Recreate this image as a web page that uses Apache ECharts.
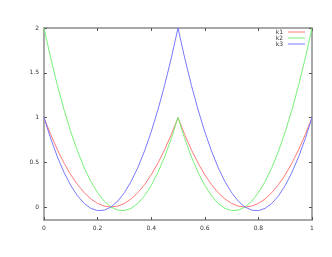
<!DOCTYPE html>
<html><head><meta charset="utf-8">
<script src="https://cdn.jsdelivr.net/npm/echarts@6/dist/echarts.min.js"></script>
<style>html,body{margin:0;padding:0;background:#fff}#c{width:332px;height:257px}</style>
</head><body><div id="c"></div>
<script>
var xValues = [0,0.025,0.05,0.075,0.1,0.125,0.15,0.175,0.2,0.225,0.25,0.275,0.3,0.325,0.35,0.375,0.4,0.425,0.45,0.475,0.5,0.525,0.55,0.575,0.6,0.625,0.65,0.675,0.7,0.725,0.75,0.775,0.8,0.825,0.85,0.875,0.9,0.925,0.95,0.975,1];
var k1 = [1,0.81,0.64,0.49,0.36,0.25,0.16,0.09,0.04,0.01,0,0.01,0.04,0.09,0.16,0.25,0.36,0.49,0.64,0.81,1,0.81,0.64,0.49,0.36,0.25,0.16,0.09,0.04,0.01,0,0.01,0.04,0.09,0.16,0.25,0.36,0.49,0.64,0.81,1];
var k2 = [2,1.665,1.36,1.085,0.84,0.625,0.44,0.285,0.16,0.065,0,-0.035,-0.04,-0.015,0.04,0.125,0.24,0.385,0.56,0.765,1,0.765,0.56,0.385,0.24,0.125,0.04,-0.015,-0.04,-0.035,0,0.065,0.16,0.285,0.44,0.625,0.84,1.085,1.36,1.665,2];
var k3 = [1,0.765,0.56,0.385,0.24,0.125,0.04,-0.015,-0.04,-0.035,0,0.065,0.16,0.285,0.44,0.625,0.84,1.085,1.36,1.665,2,1.665,1.36,1.085,0.84,0.625,0.44,0.285,0.16,0.065,0,-0.035,-0.04,-0.015,0.04,0.125,0.24,0.385,0.56,0.765,1];
var xTicks = [0,0.2,0.4,0.6,0.8,1];
var yTicks = [0,0.5,1,1.5,2];
var seriesNames = ['k1','k2','k3'];

function pairs(ys){ return xValues.map(function(x,i){ return [x, ys[i]]; }); }
var axisColor = '#8c8c8c';
var chart = echarts.init(document.getElementById('c'), null, {renderer:'canvas'});
chart.setOption({
  animation:false,
  grid:{left:44, right:20, top:28, bottom:37},
  legend:{
    orient:'vertical', right:27, top:29, align:'right', icon:'rect',
    itemWidth:17, itemHeight:1, itemGap:0, padding:0,
    textStyle:{fontSize:6, lineHeight:6, color:'#333', fontFamily:'DejaVu Sans', padding:[0,0,0,0]},
    data:seriesNames
  },
  xAxis:[{
    type:'value', min:0, max:1, position:'bottom',
    axisLine:{onZero:false, lineStyle:{color:axisColor, width:1.5}},
    axisTick:{inside:true, length:3, customValues:xTicks, lineStyle:{color:'#555'}},
    axisLabel:{customValues:xTicks, margin:5, formatter:function(v){return String(v);}, fontSize:6, color:'#333', fontFamily:'DejaVu Sans'},
    splitLine:{show:false}
  },{
    type:'value', min:0, max:1, position:'top',
    axisLine:{onZero:false, lineStyle:{color:axisColor, width:1.5}},
    axisTick:{inside:true, length:3, customValues:xTicks, lineStyle:{color:'#555'}},
    axisLabel:{show:false}, splitLine:{show:false}
  }],
  yAxis:[{
    type:'value', min:-0.145, max:2, position:'left',
    axisLine:{show:true, onZero:false, lineStyle:{color:axisColor, width:1.5}},
    axisTick:{show:true, inside:true, length:3, customValues:yTicks, lineStyle:{color:'#555'}},
    axisLabel:{customValues:yTicks, margin:5, formatter:function(v){return String(v);}, fontSize:6, color:'#333', fontFamily:'DejaVu Sans'},
    splitLine:{show:false}
  },{
    type:'value', min:-0.145, max:2, position:'right',
    axisLine:{show:true, onZero:false, lineStyle:{color:axisColor, width:1.5}},
    axisTick:{show:true, inside:true, length:3, customValues:yTicks, lineStyle:{color:'#555'}},
    axisLabel:{show:false}, splitLine:{show:false}
  }],
  series:[
    {name:'k1', type:'line', data:pairs(k1), symbol:'none', lineStyle:{width:1, color:'#ff7878'}, itemStyle:{color:'#ff7878'}, z:3},
    {name:'k2', type:'line', data:pairs(k2), symbol:'none', lineStyle:{width:1, color:'#78f078'}, itemStyle:{color:'#78f078'}, z:3},
    {name:'k3', type:'line', data:pairs(k3), symbol:'none', lineStyle:{width:1, color:'#7878ff'}, itemStyle:{color:'#7878ff'}, z:3}
  ]
});
</script></body></html>
